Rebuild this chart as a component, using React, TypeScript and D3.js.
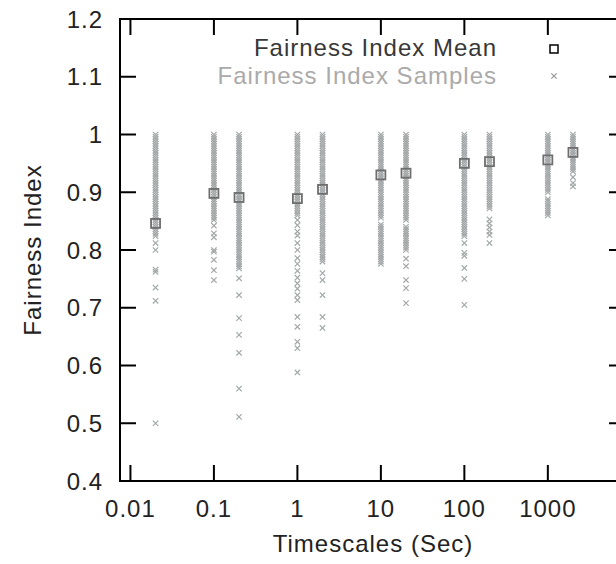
import React from 'react';
import * as d3 from 'd3';

const timescales = [0.02, 0.1, 0.2, 1, 2, 10, 20, 100, 200, 1000, 2000];
const meanValues = [0.846, 0.898, 0.891, 0.889, 0.905, 0.930, 0.933, 0.950, 0.953, 0.956, 0.969];

const samples002 = [1.000,0.996,0.992,0.988,0.984,0.980,0.976,0.972,0.968,0.964,0.960,0.956,0.952,0.948,0.944,0.940,0.936,0.932,0.928,0.924,0.920,0.916,0.912,0.908,0.904,0.900,0.896,0.892,0.888,0.884,0.880,0.876,0.872,0.868,0.864,0.860,0.856,0.852,0.848,0.844,0.840,0.836,0.832,0.828,0.824,0.812,0.800,0.766,0.762,0.735,0.712,0.500];
const samples01 = [1.000,0.996,0.992,0.988,0.984,0.980,0.976,0.972,0.968,0.964,0.960,0.956,0.952,0.948,0.944,0.940,0.936,0.932,0.928,0.924,0.920,0.916,0.912,0.908,0.904,0.900,0.896,0.892,0.888,0.884,0.880,0.876,0.872,0.868,0.864,0.860,0.856,0.852,0.842,0.829,0.822,0.800,0.797,0.783,0.765,0.748];
const samples02 = [1.000,0.996,0.992,0.988,0.984,0.980,0.976,0.972,0.968,0.964,0.960,0.956,0.952,0.948,0.944,0.940,0.936,0.932,0.928,0.924,0.920,0.916,0.912,0.908,0.904,0.900,0.896,0.892,0.888,0.884,0.880,0.876,0.872,0.868,0.864,0.860,0.856,0.852,0.848,0.844,0.840,0.836,0.832,0.828,0.824,0.820,0.816,0.812,0.808,0.804,0.800,0.796,0.792,0.788,0.784,0.780,0.776,0.772,0.768,0.751,0.722,0.682,0.653,0.622,0.560,0.511];
const samples1 = [1.000,0.996,0.992,0.988,0.984,0.980,0.976,0.972,0.968,0.964,0.960,0.956,0.952,0.948,0.944,0.940,0.936,0.932,0.928,0.924,0.920,0.916,0.912,0.908,0.904,0.900,0.896,0.892,0.888,0.884,0.880,0.876,0.872,0.868,0.864,0.860,0.852,0.843,0.832,0.825,0.812,0.800,0.786,0.776,0.764,0.752,0.742,0.733,0.722,0.713,0.684,0.667,0.641,0.630,0.588];
const samples2 = [1.000,0.996,0.992,0.988,0.984,0.980,0.976,0.972,0.968,0.964,0.960,0.956,0.952,0.948,0.944,0.940,0.936,0.932,0.928,0.924,0.920,0.916,0.912,0.908,0.904,0.900,0.896,0.892,0.888,0.884,0.880,0.876,0.872,0.868,0.864,0.860,0.856,0.852,0.848,0.844,0.840,0.836,0.832,0.828,0.824,0.820,0.816,0.812,0.808,0.804,0.800,0.796,0.792,0.788,0.784,0.780,0.760,0.748,0.722,0.684,0.665];
const samples10 = [1.000,0.996,0.992,0.988,0.984,0.980,0.976,0.972,0.968,0.964,0.960,0.956,0.952,0.948,0.944,0.940,0.936,0.932,0.928,0.924,0.920,0.916,0.912,0.908,0.904,0.900,0.896,0.892,0.888,0.884,0.880,0.876,0.872,0.868,0.864,0.860,0.856,0.844,0.840,0.836,0.832,0.828,0.824,0.820,0.816,0.812,0.808,0.804,0.800,0.796,0.792,0.788,0.784,0.780,0.776];
const samples20 = [1.000,0.996,0.992,0.988,0.984,0.980,0.976,0.972,0.968,0.964,0.960,0.956,0.952,0.948,0.944,0.940,0.936,0.932,0.928,0.924,0.920,0.916,0.912,0.908,0.904,0.900,0.896,0.892,0.888,0.884,0.880,0.876,0.872,0.868,0.864,0.860,0.856,0.852,0.840,0.836,0.832,0.828,0.824,0.820,0.816,0.812,0.808,0.804,0.800,0.785,0.772,0.748,0.734,0.708];
const samples100 = [1.000,0.996,0.992,0.988,0.984,0.980,0.976,0.972,0.968,0.964,0.960,0.956,0.952,0.948,0.944,0.940,0.936,0.932,0.928,0.924,0.920,0.916,0.912,0.908,0.904,0.900,0.896,0.892,0.888,0.884,0.880,0.876,0.872,0.868,0.864,0.860,0.856,0.852,0.848,0.844,0.840,0.836,0.832,0.828,0.824,0.812,0.795,0.790,0.769,0.750,0.705];
const samples200 = [1.000,0.996,0.992,0.988,0.984,0.980,0.976,0.972,0.968,0.964,0.960,0.956,0.952,0.948,0.944,0.940,0.936,0.932,0.928,0.924,0.920,0.916,0.912,0.908,0.904,0.900,0.896,0.892,0.888,0.884,0.880,0.876,0.872,0.853,0.846,0.839,0.832,0.826,0.812];
const samples1000 = [1.000,0.996,0.992,0.988,0.984,0.980,0.976,0.972,0.968,0.964,0.960,0.956,0.952,0.948,0.944,0.940,0.936,0.932,0.928,0.924,0.920,0.916,0.912,0.908,0.904,0.900,0.888,0.884,0.880,0.876,0.872,0.868,0.864,0.860];
const samples2000 = [1.000,0.996,0.992,0.988,0.984,0.980,0.976,0.972,0.968,0.964,0.960,0.956,0.952,0.948,0.944,0.940,0.936,0.926,0.916,0.910];

const sampleSets = [samples002, samples01, samples02, samples1, samples2, samples10, samples20, samples100, samples200, samples1000, samples2000];

const xTickValues = [0.01, 0.1, 1, 10, 100, 1000];
const xTickLabels = ['0.01', '0.1', '1', '10', '100', '1000'];
const yTickValues = [0.4, 0.5, 0.6, 0.7, 0.8, 0.9, 1.0, 1.1, 1.2];
const yTickLabels = ['0.4', '0.5', '0.6', '0.7', '0.8', '0.9', '1', '1.1', '1.2'];

const legendLabels = ['Fairness Index Mean', 'Fairness Index Samples'];

export default function App() {
  const W = 616, H = 564;
  const left = 120, right = 625, top = 19, bottom = 481;
  const x = d3.scaleLog().domain([0.0075, 8400]).range([left, right]);
  const y = d3.scaleLinear().domain([0.4, 1.2]).range([bottom, top]);
  const tickLen = 16;
  const font = "'Liberation Sans', Arial, Helvetica, sans-serif";
  const fs = 24;
  const ls = 1;
  const sampleColor = '#a4a8a8';
  const xs = 2.7;
  const xPath = `M${-xs},${-xs}L${xs},${xs}M${-xs},${xs}L${xs},${-xs}`;
  const sq = 9;

  const points: { t: number; v: number }[] = [];
  sampleSets.forEach((set, i) => set.forEach(v => points.push({ t: timescales[i], v })));

  return (
    <svg width={W} height={H} style={{ position: 'absolute', left: 0, top: 0, background: '#fff' }}>
      <rect x={0} y={0} width={W} height={H} fill="#fff" />
      <g stroke={sampleColor} strokeWidth={1.2} fill="none">
        {points.map((p, i) => (
          <path key={i} d={xPath} transform={`translate(${x(p.t)},${y(p.v)})`} />
        ))}
      </g>
      <g stroke="#6e6e6e" strokeWidth={1.8} fill="none">
        {timescales.map((t, i) => (
          <rect key={i} x={x(t) - sq / 2} y={y(meanValues[i]) - sq / 2} width={sq} height={sq} />
        ))}
      </g>
      <rect x={left} y={top} width={right - left} height={bottom - top} fill="none" stroke="#000" strokeWidth={2} />
      <g stroke="#000" strokeWidth={2}>
        {xTickValues.map((t, i) => (
          <g key={i}>
            <line x1={x(t)} x2={x(t)} y1={bottom} y2={bottom - tickLen} />
            <line x1={x(t)} x2={x(t)} y1={top} y2={top + tickLen} />
          </g>
        ))}
        {yTickValues.map((v, i) => (
          <g key={i}>
            <line x1={left} x2={left + tickLen} y1={y(v)} y2={y(v)} />
            <line x1={right} x2={right - tickLen} y1={y(v)} y2={y(v)} />
          </g>
        ))}
      </g>
      <g fontFamily={font} fontSize={fs} fill="#222" letterSpacing={ls}>
        {xTickValues.map((t, i) => (
          <text key={i} x={x(t)} y={517} textAnchor="middle">{xTickLabels[i]}</text>
        ))}
        {yTickValues.map((v, i) => (
          <text key={i} x={103} y={y(v) + 8.5} textAnchor="end">{yTickLabels[i]}</text>
        ))}
        <text x={373} y={552} textAnchor="middle">Timescales (Sec)</text>
        <text transform={`translate(41,${(top + bottom) / 2}) rotate(-90)`} textAnchor="middle">Fairness Index</text>
      </g>
      <g fontFamily={font} fontSize={fs} letterSpacing={ls}>
        <text x={497} y={56} textAnchor="end" fill="#383838">{legendLabels[0]}</text>
        <text x={497} y={84} textAnchor="end" fill="#aaaaaa">{legendLabels[1]}</text>
      </g>
      <rect x={554 - 4} y={49 - 4} width={8} height={8} fill="none" stroke="#000" strokeWidth={1.5} />
      <path d={xPath} transform="translate(554,76)" stroke="#999" strokeWidth={1.2} fill="none" />
    </svg>
  );
}
